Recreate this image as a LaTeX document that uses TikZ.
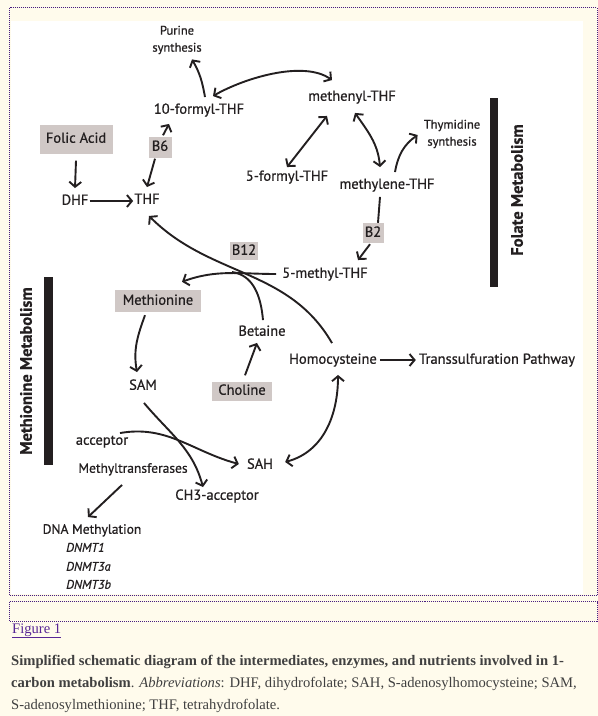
\documentclass[tikz,border=0pt]{standalone}
\usepackage{fontspec}
\setmainfont{Liberation Serif}
\newfontfamily\diagfont[FakeBold=0.7]{PT Sans}
\usetikzlibrary{arrows.meta,positioning,calc}
\definecolor{inkdark}{RGB}{35,31,32}
\definecolor{boxgray}{RGB}{208,200,198}
\definecolor{pagecream}{RGB}{255,251,236}
\definecolor{dotpurple}{RGB}{72,30,128}
\definecolor{linkpurple}{RGB}{88,38,150}
\definecolor{captiongray}{RGB}{64,64,64}
\tikzset{ARROW/.style={line width=1.9pt, draw=inkdark, -{Straight Barb[length=5pt,width=12pt]}}}
\tikzset{DARROW/.style={ARROW, {Straight Barb[length=5pt,width=12pt]}-{Straight Barb[length=5pt,width=12pt]}}}
\tikzset{LINE/.style={line width=1.9pt, draw=inkdark}}
\tikzset{LABEL/.style={font=\diagfont\fontsize{14.5}{16}\selectfont, text=inkdark, inner sep=1pt, text height=10.5pt, text depth=3pt}}
\tikzset{SMALL/.style={font=\diagfont\fontsize{12.5}{17}\selectfont, text=inkdark, inner sep=1pt, align=center}}
\tikzset{BOX/.style={LABEL, fill=boxgray, inner sep=0pt}}
\tikzset{DNMT/.style={LABEL, font=\diagfont\itshape\fontsize{12.5}{14}\selectfont, anchor=west}}
\tikzset{SIDEBAR/.style={font=\diagfont\bfseries\fontsize{16.5}{18}\selectfont, text=inkdark, rotate=90}}
\tikzset{DOTTED/.style={draw=dotpurple, line width=1pt, dash pattern=on 1pt off 1pt}}
\tikzset{CAPTION/.style={font=\fontsize{14.6}{21.8}\selectfont, text=captiongray, inner sep=0pt}}

\begin{document}
\begin{tikzpicture}[x=1pt, y=-1pt]
    \useasboundingbox (0,0) rectangle (598,716);
    \fill[pagecream] (0,0) rectangle (598,716);
    \fill[white] (11,21) rectangle (583,594);
    \draw[DOTTED] (9.5,7.5) rectangle (597,595.5);
    \draw[DOTTED] (9.5,601.5) rectangle (597,621);

    % folate cycle
    \node[SMALL] (n_purine) at (177,40) {Purine\\synthesis};
    \node[LABEL] (n_formyl10) at (199,110) {10-formyl-THF};
    \node[BOX, minimum width=73pt, minimum height=29pt] (n_folic) at (76,139) {Folic Acid};
    \node[BOX, minimum width=23pt, minimum height=21pt] (n_b6) at (160,147) {B6};
    \node[LABEL] (n_dhf) at (75,201) {DHF};
    \node[LABEL] (n_thf) at (147,200) {THF};
    \node[LABEL] (n_methenyl) at (352,97) {methenyl-THF};
    \node[LABEL] (n_formyl5) at (287,177) {5-formyl-THF};
    \node[LABEL] (n_methylene) at (387,185) {methylene-THF};
    \node[SMALL] (n_thymidine) at (452,134) {Thymidine\\synthesis};
    \node[BOX, minimum width=21pt, minimum height=20pt] (n_b2) at (373,233) {B2};
    \node[LABEL] (n_methyl5) at (325,274) {5-methyl-THF};
    \node[BOX, minimum width=28pt, minimum height=18pt] (n_b12) at (244,251) {B12};

    \fill[inkdark] (490,98) rectangle (498,287);
    \node[SIDEBAR] (n_folate) at (517,190) {Folate Metabolism};

    % methionine cycle
    \node[BOX, minimum width=86pt, minimum height=22pt] (n_methionine) at (158,301) {Methionine};
    \node[LABEL] (n_betaine) at (262,332) {Betaine};
    \node[LABEL] (n_sam) at (143,386) {SAM};
    \node[BOX, minimum width=60pt, minimum height=19pt] (n_choline) at (242,391) {Choline};
    \node[LABEL] (n_homocys) at (333,360) {Homocysteine};
    \node[LABEL] (n_trans) at (497,360) {Transsulfuration Pathway};
    \node[LABEL] (n_acceptor) at (102,441) {acceptor};
    \node[LABEL, font=\diagfont\fontsize{13.5}{15}\selectfont] (n_mtrans) at (133,469) {Methyltransferases};
    \node[LABEL] (n_sah) at (260,465) {SAH};
    \node[LABEL] (n_ch3) at (217,496) {CH3-acceptor};
    \node[LABEL, font=\diagfont\fontsize{13.5}{15}\selectfont] (n_dnameth) at (92,530) {DNA Methylation};
    \node[DNMT] (n_dnmt1) at (65,548) {DNMT1};
    \node[DNMT] (n_dnmt3a) at (65,567) {DNMT3a};
    \node[DNMT] (n_dnmt3b) at (65,585) {DNMT3b};

    \fill[inkdark] (44,277) rectangle (53,465);
    \node[SIDEBAR] (n_methmet) at (26,371) {Methionine Metabolism};

    \coordinate (c_merge) at (232,272);

    % folate arrows
    \draw[ARROW] ([shift={(0,7)}]n_folic.south) -- ([shift={(0,-5)}]n_dhf.north);
    \draw[ARROW] (n_dhf.east) -- (n_dhf.east -| n_thf.west);
    \draw[ARROW] ([shift={(-5,1)}]n_b6.south) -- ([shift={(0,-5)}]n_thf.north);
    \draw[ARROW] ([shift={(3,-1)}]n_b6.north) -- ([shift={(-30,6)}]n_formyl10.south);
    \draw[ARROW] ([shift={(6,-5)}]n_formyl10.north) to[out=100, in=-60] ([shift={(15,4)}]n_purine.south);
    \draw[DARROW] ([shift={(14,-6)}]n_formyl10.north) to[out=30, in=145, looseness=0.75] ([shift={(-20,-9)}]n_methenyl.north);
    \draw[DARROW] ([shift={(-25,11)}]n_methenyl.south) -- ([shift={(0,-2)}]n_formyl5.north);
    \draw[DARROW] ([shift={(3,8)}]n_methenyl.south) to[out=-55, in=95] ([shift={(-7,-10)}]n_methylene.north);
    \draw[ARROW] ([shift={(8,-5)}]n_methylene.north) to[out=80, in=-145] ([shift={(-5,1)}]n_thymidine.west);
    \draw[LINE] ([shift={(-7,4)}]n_methylene.south) -- ([shift={(5,0)}]n_b2.north);
    \draw[ARROW] ([shift={(-3,1)}]n_b2.south) -- ([shift={(33,-6)}]n_methyl5.north);

    % methionine arrows
    \draw[ARROW] ([shift={(-5,0)}]n_methyl5.west) to[out=180, in=20] ([shift={(24,-8)}]n_methionine.north);
    \draw[ARROW] ([shift={(-1,-9)}]n_homocys.north) to[out=120, in=-45] ([shift={(2,8)}]n_thf.south);
    \draw[LINE] ([shift={(1,-4)}]n_betaine.north) to[out=95, in=-8] (c_merge);
    \draw[ARROW] ([shift={(3,-6)}]n_choline.north) -- ([shift={(-5,3)}]n_betaine.south);
    \draw[ARROW] ([shift={(-13,3)}]n_methionine.south) to[out=-110, in=100] ([shift={(-6,-6)}]n_sam.north);
    \draw[ARROW] ([shift={(1,9)}]n_sam.south) to[out=-50, in=105] ([shift={(-14,-1)}]n_ch3.north);
    \draw[ARROW] ([shift={(18,0)}]n_acceptor.north) to[out=10, in=165] ([shift={(-7,-1)}]n_sah.west);
    \draw[DARROW] ([shift={(5,7)}]n_homocys.south) to[out=-90, in=15] ([shift={(11,-3)}]n_sah.east);
    \draw[ARROW] ([shift={(2,0)}]n_homocys.east) -- ([shift={(-2,0)}]n_homocys.east -| n_trans.west);
    \draw[ARROW] ([shift={(-11,8)}]n_mtrans.south) -- ([shift={(-4,-5)}]n_dnameth.north);

    % caption
    \node[CAPTION, anchor=base west, text=linkpurple] (n_figlink) at (12,633) {\underline{Figure 1}};
    \node[CAPTION, anchor=north west, align=left] (n_caption) at (11,655) {\textbf{Simplified schematic diagram of the intermediates, enzymes, and nutrients involved in 1-}\\\textbf{carbon metabolism}. \textit{Abbreviations}: DHF, dihydrofolate; SAH, S-adenosylhomocysteine; SAM,\\S-adenosylmethionine; THF, tetrahydrofolate.};
\end{tikzpicture}
\end{document}
